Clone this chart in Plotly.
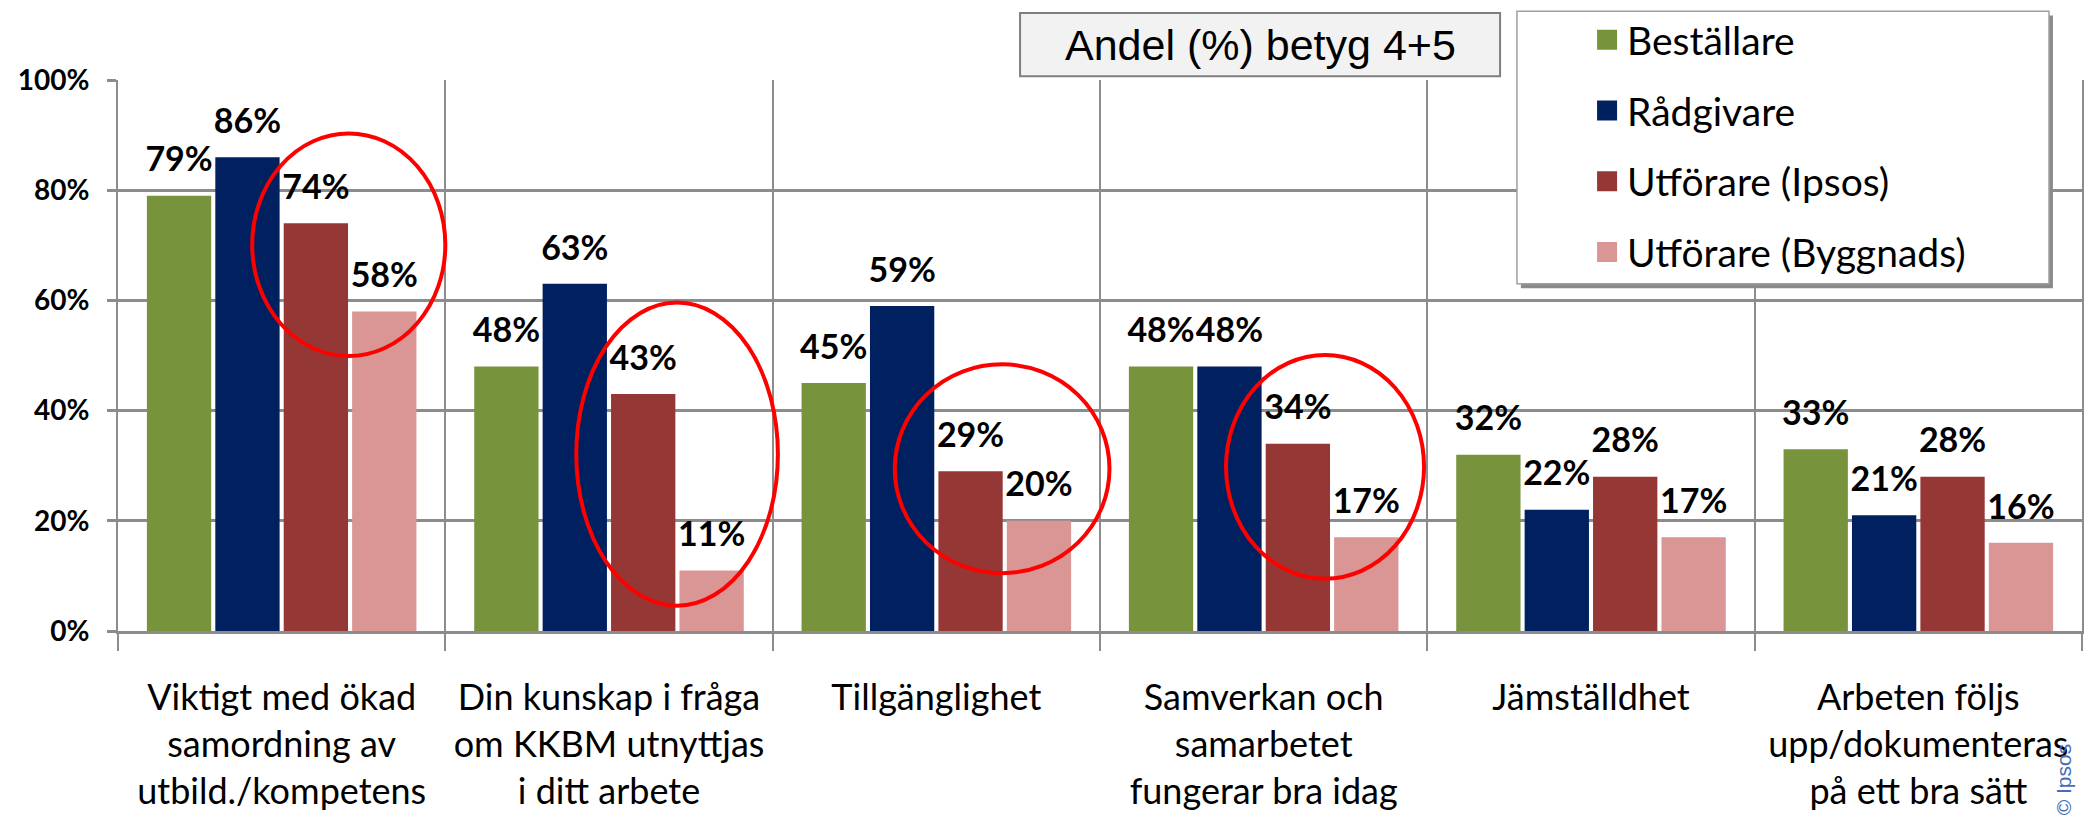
import plotly.graph_objects as go

# ---- data ----
categories = [
    "Viktigt med ökad<br>samordning av<br>utbild./kompetens",
    "Din kunskap i fråga<br>om KKBM utnyttjas<br>i ditt arbete",
    "Tillgänglighet",
    "Samverkan och<br>samarbetet<br>fungerar bra idag",
    "Jämställdhet",
    "Arbeten följs<br>upp/dokumenteras<br>på ett bra sätt",
]
series_names = ["Beställare", "Rådgivare", "Utförare (Ipsos)", "Utförare (Byggnads)"]
bestallare = [79, 48, 45, 48, 32, 33]
radgivare = [86, 63, 59, 48, 22, 21]
utforare_ipsos = [74, 43, 29, 34, 28, 28]
utforare_byggnads = [58, 11, 20, 17, 17, 16]
series_values = [bestallare, radgivare, utforare_ipsos, utforare_byggnads]
y_ticks = [0, 20, 40, 60, 80, 100]
title_text = "Andel (%) betyg 4+5"
copyright_text = "© Ipsos"

# ---- styles ----
colors = ["#77933C", "#002060", "#953735", "#D99694"]
GRID = "#8c8c8c"
FONT = "Lato"
LABEL_PAD = 2.6  # value units between bar top and its label

# highlight ellipses: (category index, left offset, right offset, y bottom, y top)
highlights = [
    (0, -0.09, 0.50, 49.9, 90.3),
    (1, -0.10, 0.516, 4.6, 59.6),
    (2, -0.127, 0.529, 10.5, 48.4),
    (3, -0.115, 0.49, 9.5, 50.1),
]

fig = go.Figure()

for i, (name, vals, col) in enumerate(zip(series_names, series_values, colors)):
    fig.add_trace(go.Bar(
        x=categories, y=vals, name=name, marker=dict(color=col, line=dict(width=0)),
        offsetgroup=str(i), showlegend=False, hoverinfo="skip",
    ))
    # invisible carrier bar for the value labels (sits on top of the real bar)
    fig.add_trace(go.Bar(
        x=categories, y=[LABEL_PAD] * len(vals), base=vals,
        offsetgroup=str(i), showlegend=False, hoverinfo="skip",
        marker=dict(color="rgba(0,0,0,0)", line=dict(width=0)),
        text=[f"{v}%" for v in vals], textposition="outside", textangle=0,
        constraintext="none", cliponaxis=False,
        textfont=dict(family=FONT, size=34, color="black", weight="bold"),
    ))

for name, col in zip(series_names, colors):
    fig.add_trace(go.Scatter(
        x=[None], y=[None], mode="markers", name=name, legendgroup=name,
        marker=dict(symbol="square", size=22, color=col, line=dict(color=col, width=4)),
        showlegend=True,
    ))

shapes = []
# legend box with shadow
LX0, LX1, LY0, LY1 = 0.7123, 0.9832, 0.630, 1.125
shapes.append(dict(type="rect", xref="paper", yref="paper", x0=LX0 + 0.002, x1=LX1 + 0.002,
                   y0=LY0 - 0.008, y1=LY1 - 0.008, fillcolor="#8a8a8a", line=dict(width=0), layer="above"))
shapes.append(dict(type="rect", xref="paper", yref="paper", x0=LX0, x1=LX1, y0=LY0, y1=LY1,
                   fillcolor="white", line=dict(color="#a0a0a0", width=1.5), layer="above"))
# title box
TX0, TX1, TY0, TY1 = 0.4593, 0.7037, 1.007, 1.1216
shapes.append(dict(type="rect", xref="paper", yref="paper", x0=TX0, x1=TX1, y0=TY0, y1=TY1,
                   fillcolor="#f2f2f2", line=dict(color="#7f7f7f", width=2), layer="above"))
# red ellipses
for ci, a, b, y0, y1 in highlights:
    shapes.append(dict(type="circle", xref="x", yref="y", x0=ci + a, x1=ci + b, y0=y0, y1=y1,
                       line=dict(color="#ff0000", width=4), fillcolor="rgba(0,0,0,0)", layer="above"))

annotations = [
    dict(text=title_text, xref="paper", yref="paper", x=(TX0 + TX1) / 2, y=(TY0 + TY1) / 2,
         showarrow=False, xanchor="center", yanchor="middle",
         font=dict(family="Liberation Sans", size=43, color="black")),
    dict(text=copyright_text, xref="paper", yref="paper", x=0.991, y=-0.2686, textangle=-90,
         showarrow=False, xanchor="center", yanchor="middle",
         font=dict(family="Liberation Sans", size=21, color="#4a6cb3")),
]

fig.update_layout(
    width=2100, height=819,
    margin=dict(l=118, r=18, t=80, b=188, autoexpand=False),
    barmode="group", bargap=0.164, bargroupgap=0.06,
    plot_bgcolor="white", paper_bgcolor="white",
    shapes=shapes, annotations=annotations,
    legend=dict(x=0.748, xanchor="left", y=1.1307, yanchor="top", bgcolor="rgba(0,0,0,0)",
                borderwidth=0, font=dict(family=FONT, size=39, color="black"),
                tracegroupgap=17, itemclick=False, itemdoubleclick=False),
    font=dict(family=FONT, color="black"),
)
fig.update_xaxes(
    type="category", tickson="boundaries", ticks="outside", ticklen=17, tickwidth=2,
    tickcolor=GRID, showgrid=True, gridcolor=GRID, gridwidth=2,
    showline=True, linecolor=GRID, linewidth=3, zeroline=False,
    tickfont=dict(family=FONT, size=36, color="black"), ticklabelstandoff=33,
)
fig.update_yaxes(
    range=[0, 100], tickvals=y_ticks, ticktext=[f"{t}%" for t in y_ticks],
    ticks="outside", ticklen=9, tickwidth=3, tickcolor=GRID,
    showgrid=True, gridcolor=GRID, gridwidth=3, zeroline=False,
    showline=True, mirror=True, linecolor=GRID, linewidth=2,
    tickfont=dict(family=FONT, size=28, color="black", weight="bold"), ticklabelstandoff=12,
)

fig.write_html("out.html", config={"displayModeBar": False},
               post_script="document.body.style.margin='0';")
